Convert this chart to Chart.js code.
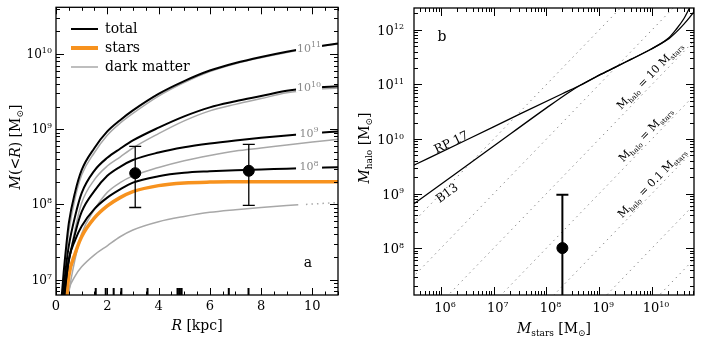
<!DOCTYPE html>
<html>
<head>
<meta charset="utf-8">
<script src="https://cdn.jsdelivr.net/npm/chart.js@4.4.1/dist/chart.umd.min.js"></script>
<style>
  html, body { margin: 0; padding: 0; background: #fff; }
  #wrap { position: relative; width: 702px; height: 340px; }
  #wrap canvas { position: absolute; top: 0; }
</style>
</head>
<body>
<div id="wrap">
  <canvas id="massProfile" width="351" height="340" style="left:0"></canvas>
  <canvas id="haloRelation" width="351" height="340" style="left:351px"></canvas>
</div>
<script>
// ---- panel a: enclosed mass profiles, log10(M / Msun) against R in kpc ----
const kpcRadius  = [0.2, 0.3, 0.4, 0.5, 0.75, 1, 1.5, 2, 2.5, 3, 4, 5, 6, 7, 8, 9, 10, 11];
const logTotal11 = [6.68, 7.1, 7.45, 7.75, 8.17, 8.455, 8.75, 8.97, 9.12, 9.25, 9.47, 9.64, 9.78, 9.88, 9.96, 10.03, 10.09, 10.14];
const logDark11  = [6.6, 7.03, 7.35, 7.64, 8.09, 8.39, 8.69, 8.92, 9.08, 9.21, 9.44, 9.62, 9.765, 9.87, 9.95, 10.02, 10.083, 10.134];
const logTotal10 = [6.55, 6.9, 7.2, 7.45, 7.85, 8.15, 8.45, 8.62, 8.74, 8.85, 9.02, 9.17, 9.29, 9.37, 9.44, 9.51, 9.55, 9.57];
const logDark10  = [6.46, 6.76, 7.02, 7.23, 7.68, 8.02, 8.33, 8.51, 8.63, 8.75, 8.94, 9.11, 9.243, 9.33, 9.407, 9.483, 9.525, 9.546];
const logTotal9  = [6.45, 6.75, 7.03, 7.25, 7.62, 7.9, 8.18, 8.38, 8.5, 8.59, 8.69, 8.76, 8.81, 8.85, 8.885, 8.915, 8.945, 8.97];
const logDark9   = [5.9, 6.2, 6.52, 6.82, 7.28, 7.61, 7.93, 8.16, 8.29, 8.38, 8.49, 8.58, 8.65, 8.71, 8.75, 8.79, 8.83, 8.865];
const logTotal8  = [6.21, 6.68, 7.01, 7.27, 7.53, 7.71, 7.94, 8.09, 8.2, 8.29, 8.375, 8.42, 8.44, 8.455, 8.465, 8.475, 8.485, 8.495];
const logStars   = [5.8, 6.35, 6.72, 7.05, 7.35, 7.57, 7.82, 7.98, 8.09, 8.17, 8.25, 8.285, 8.297, 8.3, 8.301, 8.301, 8.301, 8.301];
const darkRadius8 = [0.2, 0.3, 0.4, 0.5, 0.75, 1, 1.5, 2, 2.5, 3, 4, 5, 6, 7, 8, 9, 9.45];
const logDark8    = [6.0, 6.4, 6.7, 6.87, 7.05, 7.17, 7.33, 7.45, 7.57, 7.66, 7.77, 7.84, 7.895, 7.93, 7.96, 7.985, 7.995];
const tailRadius8 = [9.75, 10, 11];
const logDarkTail8 = [8.0, 8.005, 8.025];
const haloLabels = ['11', '10', '9', '8'];

// measured points with errors
const obsRadius = [3.09, 7.52];
const obsMass   = [2.6e8, 2.8e8];
const obsLow    = [9.1e7, 9.7e7];
const obsHigh   = [5.9e8, 6.3e8];
// radii of individual tracers (rug along the bottom axis)
const rugRadius = [1.55, 1.94, 2.25, 2.55, 3.57, 4.74, 4.82, 4.9, 6.74, 7.51];

// ---- panel b: stellar-to-halo mass relations, log10 masses ----
const logStarsRP17 = [5.4, 6.5, 7.5, 8.3, 8.64, 9.0, 9.335, 9.6, 9.97, 10.22, 10.32, 10.45, 10.6, 10.8, 10.9];
const logHaloRP17  = [9.48, 9.99, 10.46, 10.83, 10.985, 11.17, 11.33, 11.46, 11.64, 11.78, 11.84, 11.95, 12.1, 12.34, 12.5];
const logStarsB13  = [5.4, 6.0, 7.0, 8.0, 8.4, 8.64, 9.0, 9.335, 9.6, 9.97, 10.22, 10.32, 10.45, 10.6, 10.7, 10.8];
const logHaloB13   = [8.75, 9.17, 9.87, 10.57, 10.84, 10.985, 11.17, 11.33, 11.46, 11.64, 11.78, 11.855, 12.0, 12.2, 12.38, 12.58];
const haloToStars  = [1000, 100, 10, 1, 0.1, 0.01, 0.001];
const ratioEnds    = [1e4, 1e12];
const galStars = 2e8;
const galHalo = 1e8;
const galHaloLow = 1e6;
const galHaloHigh = 9.5e8;

const FONT = '"DejaVu Serif", serif';

const pts = (xs, ys) => xs.map((x, i) => ({ x: x, y: Math.pow(10, ys[i]) }));
const logPts = (xs, ys) => xs.map((x, i) => ({ x: Math.pow(10, x), y: Math.pow(10, ys[i]) }));

function curve(data, color, width, dash) {
  return {
    data: data, borderColor: color, borderWidth: width, borderDash: dash || [],
    pointRadius: 0, fill: false, cubicInterpolationMode: 'monotone'
  };
}

function errorBar(x, lo, hi, width, cap) {
  return {
    data: [{ x: x, y: lo }, { x: x, y: hi }], borderColor: '#000', borderWidth: width,
    pointStyle: 'line', pointRadius: cap, pointBorderWidth: width, pointBorderColor: '#000'
  };
}

function logTickList(min, max) {
  const out = [];
  for (let e = Math.floor(Math.log10(min)); e <= Math.ceil(Math.log10(max)); e++) {
    for (let m = 1; m < 10; m++) {
      const v = m * Math.pow(10, e);
      if (v >= min * 0.999 && v <= max * 1.001) out.push({ v: v, major: m === 1, exp: e });
    }
  }
  return out;
}

// inward ticks on both sides of the frame
function drawTicks(chart, axis, list, majorLen, minorLen) {
  const { ctx, chartArea: a } = chart;
  const s = chart.scales[axis];
  ctx.save();
  ctx.strokeStyle = '#000';
  ctx.lineWidth = 1;
  ctx.beginPath();
  list.forEach(t => {
    const p = Math.round(s.getPixelForValue(t.v)) + 0.5;
    const len = t.major ? majorLen : minorLen;
    if (axis === 'x') {
      ctx.moveTo(p, a.bottom); ctx.lineTo(p, a.bottom - len);
      ctx.moveTo(p, a.top); ctx.lineTo(p, a.top + len);
    } else {
      ctx.moveTo(a.left, p); ctx.lineTo(a.left + len, p);
      ctx.moveTo(a.right, p); ctx.lineTo(a.right - len, p);
    }
  });
  ctx.stroke();
  ctx.restore();
}

function drawFrame(chart) {
  const { ctx, chartArea: a } = chart;
  ctx.save();
  ctx.strokeStyle = '#000';
  ctx.lineWidth = 1.3;
  ctx.strokeRect(a.left, a.top, a.right - a.left, a.bottom - a.top);
  ctx.restore();
}

// text made of runs with their own font and vertical shift
function drawRuns(ctx, runs, x, y, align) {
  let w = 0;
  runs.forEach(r => { ctx.font = r.font; r.w = ctx.measureText(r.t).width; w += r.w; });
  let cx = align === 'center' ? x - w / 2 : align === 'right' ? x - w : x;
  ctx.textAlign = 'left';
  ctx.textBaseline = 'alphabetic';
  runs.forEach(r => { ctx.font = r.font; ctx.fillText(r.t, cx, y + (r.dy || 0)); cx += r.w; });
  return w;
}

function powerRuns(exp, size, supSize) {
  return [
    { t: '10', font: size + 'px ' + FONT },
    { t: String(exp), font: supSize + 'px ' + FONT, dy: -size * 0.42 }
  ];
}

function msunRuns(size) {
  return [
    { t: ' [', font: size + 'px ' + FONT },
    { t: 'M', font: size + 'px ' + FONT },
    { t: '⊙', font: Math.round(size * 0.62) + 'px ' + FONT, dy: size * 0.22 },
    { t: ']', font: size + 'px ' + FONT }
  ];
}

// ---------------- panel a ----------------
const xMinA = 0, xMaxA = 11, yMinA = 6.25e6, yMaxA = 4.17e10;

const profileDecor = {
  id: 'profileDecor',
  afterDatasetsDraw(chart) {
    const { ctx, chartArea: a } = chart;
    const x = chart.scales.x, y = chart.scales.y;

    // halo mass labels sitting in a gap of each total curve
    const totals = [logTotal11, logTotal10, logTotal9, logTotal8];
    totals.forEach((arr, i) => {
      const px = x.getPixelForValue(9.87);
      const py = y.getPixelForValue(Math.pow(10, (arr[15] + arr[16]) / 2 + 0.025));
      ctx.save();
      ctx.fillStyle = '#fff';
      ctx.fillRect(px - 13, py - 5, 26, 10);
      ctx.fillStyle = '#8a8a8a';
      drawRuns(ctx, powerRuns(haloLabels[i], 11, 8), px, py + 4, 'center');
      ctx.restore();
    });

    // rug of tracer radii
    ctx.save();
    ctx.strokeStyle = '#000';
    ctx.lineWidth = 2;
    ctx.beginPath();
    rugRadius.forEach(r => {
      const p = x.getPixelForValue(r);
      ctx.moveTo(p, a.bottom); ctx.lineTo(p, a.bottom - 7);
    });
    ctx.stroke();
    ctx.restore();

    // ticks and frame
    const xt = [];
    for (let v = 0; v <= 11; v += 0.5) xt.push({ v: v, major: v % 2 === 0 });
    drawTicks(chart, 'x', xt, 7, 3.5);
    drawTicks(chart, 'y', logTickList(yMinA, yMaxA), 8, 4);
    drawFrame(chart);

    ctx.save();
    ctx.fillStyle = '#000';
    // tick labels
    ctx.font = '13px ' + FONT;
    ctx.textAlign = 'center';
    ctx.textBaseline = 'middle';
    for (let v = 0; v <= 10; v += 2) ctx.fillText(String(v), x.getPixelForValue(v), 307);
    logTickList(yMinA, yMaxA).filter(t => t.major).forEach(t => {
      drawRuns(ctx, powerRuns(t.exp, 12, 8), a.left - 4, y.getPixelForValue(t.v) + 4, 'right');
    });

    // legend
    const leg = [['total', '#000', 2], ['stars', '#f7921e', 4], ['dark matter', '#a8a8a8', 1.5]];
    leg.forEach((l, i) => {
      const ly = 29 + i * 19;
      ctx.strokeStyle = l[1];
      ctx.lineWidth = l[2];
      ctx.beginPath(); ctx.moveTo(71, ly); ctx.lineTo(98, ly); ctx.stroke();
      ctx.font = '14px ' + FONT;
      ctx.textAlign = 'left';
      ctx.textBaseline = 'middle';
      ctx.fillText(l[0], 105, ly);
    });

    // panel letter
    ctx.font = '14px ' + FONT;
    ctx.textAlign = 'center';
    ctx.fillText('a', 308, 263);

    // axis titles
    drawRuns(ctx, [
      { t: 'R', font: 'italic 14px ' + FONT },
      { t: ' [kpc]', font: '14px ' + FONT }
    ], (a.left + a.right) / 2, 330, 'center');

    ctx.translate(20, 147);
    ctx.rotate(-Math.PI / 2);
    drawRuns(ctx, [
      { t: 'M', font: 'italic 14px ' + FONT },
      { t: '(<', font: '14px ' + FONT },
      { t: 'R', font: 'italic 14px ' + FONT },
      { t: ')', font: '14px ' + FONT }
    ].concat(msunRuns(14)), 0, 0, 'center');
    ctx.restore();
  }
};

new Chart(document.getElementById('massProfile'), {
  type: 'line',
  data: {
    datasets: [
      errorBar(obsRadius[0], obsLow[0], obsHigh[0], 1.3, 6),
      errorBar(obsRadius[1], obsLow[1], obsHigh[1], 1.3, 6),
      {
        type: 'scatter',
        data: obsRadius.map((r, i) => ({ x: r, y: obsMass[i] })),
        pointRadius: 5.5, backgroundColor: '#000', borderColor: '#000'
      },
      curve(pts(kpcRadius, logTotal11), '#000', 2),
      curve(pts(kpcRadius, logTotal10), '#000', 2),
      curve(pts(kpcRadius, logTotal9), '#000', 2),
      curve(pts(kpcRadius, logTotal8), '#000', 2),
      curve(pts(kpcRadius, logStars), '#f7921e', 3.5),
      curve(pts(kpcRadius, logDark11), '#a8a8a8', 1.5),
      curve(pts(kpcRadius, logDark10), '#a8a8a8', 1.5),
      curve(pts(kpcRadius, logDark9), '#a8a8a8', 1.5),
      curve(pts(darkRadius8, logDark8), '#a8a8a8', 1.5),
      curve(pts(tailRadius8, logDarkTail8), '#a8a8a8', 1.5, [1.5, 4])
    ]
  },
  options: {
    responsive: false,
    animation: false,
    events: [],
    layout: { padding: { left: 56, top: 7, right: 13, bottom: 45 } },
    plugins: { legend: { display: false }, tooltip: { enabled: false } },
    scales: {
      x: { type: 'linear', min: xMinA, max: xMaxA, display: false },
      y: { type: 'logarithmic', min: yMinA, max: yMaxA, display: false }
    }
  },
  plugins: [profileDecor]
});

// ---------------- panel b ----------------
const xMinB = 3.08e5, xMaxB = 6.25e10, yMinB = 1.38e7, yMaxB = 2.52e12;

const relationDecor = {
  id: 'relationDecor',
  afterDatasetsDraw(chart) {
    const { ctx, chartArea: a } = chart;
    const x = chart.scales.x, y = chart.scales.y;
    const px = v => x.getPixelForValue(v), py = v => y.getPixelForValue(v);
    const lp = (lx, ly) => [px(Math.pow(10, lx)), py(Math.pow(10, ly))];

    drawTicks(chart, 'x', logTickList(xMinB, xMaxB), 8, 4);
    drawTicks(chart, 'y', logTickList(yMinB, yMaxB), 8, 4);
    drawFrame(chart);

    ctx.save();
    ctx.fillStyle = '#000';
    logTickList(xMinB, xMaxB).filter(t => t.major).forEach(t => {
      drawRuns(ctx, powerRuns(t.exp, 13, 8), px(t.v) + 4, 312, 'center');
    });
    logTickList(yMinB, yMaxB).filter(t => t.major).forEach(t => {
      drawRuns(ctx, powerRuns(t.exp, 13, 8), a.left - 10, py(t.v) + 5, 'right');
    });

    ctx.font = '14px ' + FONT;
    ctx.textAlign = 'center';
    ctx.textBaseline = 'middle';
    ctx.fillText('b', 91, 37);

    // relation names, turned along their lines
    const rpA = lp(logStarsRP17[0], logHaloRP17[0]), rpB = lp(logStarsRP17[3], logHaloRP17[3]);
    const bA = lp(logStarsB13[0], logHaloB13[0]), bB = lp(logStarsB13[3], logHaloB13[3]);
    const tag = (text, at, from, to) => {
      ctx.save();
      ctx.translate(at[0], at[1]);
      ctx.rotate(Math.atan2(to[1] - from[1], to[0] - from[0]));
      ctx.font = '12px ' + FONT;
      ctx.textAlign = 'center';
      ctx.textBaseline = 'middle';
      ctx.fillText(text, 0, 0);
      ctx.restore();
    };
    tag('RP 17', lp(6.2, 9.93), rpA, rpB);
    tag('B13', lp(6.12, 9.0), bA, bB);

    // ratio line captions
    const d0 = lp(9, 9), d1 = lp(10, 10);
    const ang = Math.atan2(d1[1] - d0[1], d1[0] - d0[0]);
    const caps = [['10 ', 9.95, 11.17], ['', 9.87, 10.09], ['0.1 ', 9.99, 9.2]];
    caps.forEach(c => {
      const p = lp(c[1], c[2]);
      ctx.save();
      ctx.translate(p[0], p[1]);
      ctx.rotate(ang);
      drawRuns(ctx, [
        { t: 'M', font: '11px ' + FONT },
        { t: 'halo', font: '7px ' + FONT, dy: 2.5 },
        { t: ' = ' + c[0], font: '11px ' + FONT },
        { t: 'M', font: '11px ' + FONT },
        { t: 'stars', font: '7px ' + FONT, dy: 2.5 }
      ], 0, 4, 'center');
      ctx.restore();
    });

    // axis titles
    drawRuns(ctx, [
      { t: 'M', font: 'italic 14px ' + FONT },
      { t: 'stars', font: '9px ' + FONT, dy: 3 }
    ].concat(msunRuns(14)), (a.left + a.right) / 2, 333, 'center');

    ctx.translate(18, 148);
    ctx.rotate(-Math.PI / 2);
    drawRuns(ctx, [
      { t: 'M', font: 'italic 14px ' + FONT },
      { t: 'halo', font: '9px ' + FONT, dy: 3 }
    ].concat(msunRuns(14)), 0, 0, 'center');
    ctx.restore();
  }
};

const ratioSets = haloToStars.map(k => ({
  data: ratioEnds.map(m => ({ x: m, y: k * m })),
  borderColor: '#8f8f8f', borderWidth: 1, borderDash: [1.5, 4], pointRadius: 0, fill: false
}));

new Chart(document.getElementById('haloRelation'), {
  type: 'line',
  data: {
    datasets: [
      errorBar(galStars, galHaloLow, galHaloHigh, 2, 6),
      {
        type: 'scatter',
        data: [{ x: galStars, y: galHalo }],
        pointRadius: 5.5, backgroundColor: '#000', borderColor: '#000'
      },
      curve(logPts(logStarsRP17, logHaloRP17), '#000', 1.3),
      curve(logPts(logStarsB13, logHaloB13), '#000', 1.3)
    ].concat(ratioSets)
  },
  options: {
    responsive: false,
    animation: false,
    events: [],
    layout: { padding: { left: 63, top: 7, right: 8, bottom: 45 } },
    plugins: { legend: { display: false }, tooltip: { enabled: false } },
    scales: {
      x: { type: 'logarithmic', min: xMinB, max: xMaxB, display: false },
      y: { type: 'logarithmic', min: yMinB, max: yMaxB, display: false }
    }
  },
  plugins: [relationDecor]
});
</script>
</body>
</html>
